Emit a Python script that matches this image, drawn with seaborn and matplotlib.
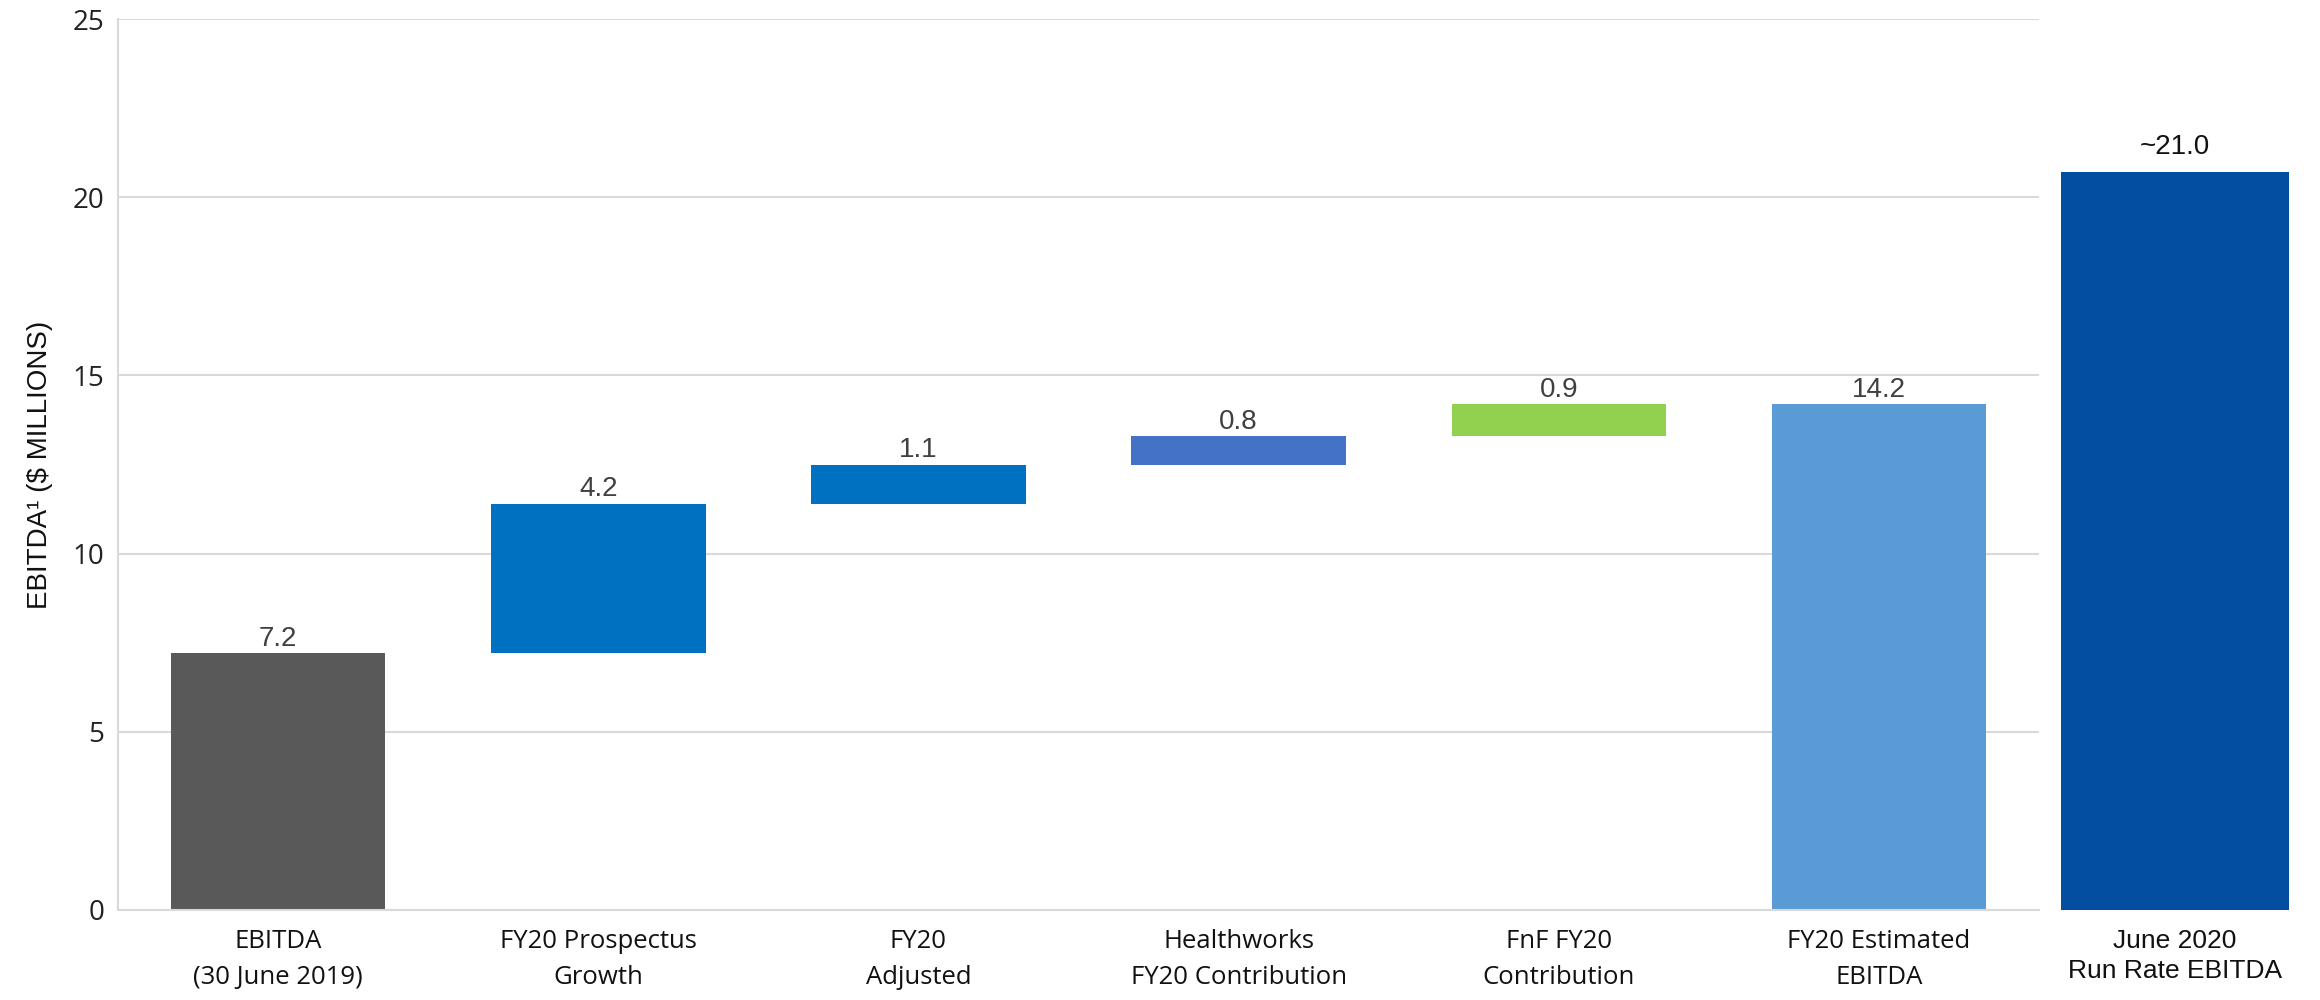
import matplotlib
matplotlib.use("Agg")
import matplotlib.pyplot as plt
import seaborn as sns
import pandas as pd

# Waterfall steps (A$ millions)
categories = [
    "EBITDA\n(30 June 2019)",
    "FY20 Prospectus\nGrowth",
    "FY20\nAdjusted",
    "Healthworks\nFY20 Contribution",
    "FnF FY20\nContribution",
    "FY20 Estimated\nEBITDA",
]
step_values = [7.2, 4.2, 1.1, 0.8, 0.9, 14.2]
is_total = [True, False, False, False, False, True]
bar_colors = ["#595959", "#0070C0", "#0070C0", "#4472C4", "#92D050", "#5B9BD5"]

run_rate_label = "June 2020\nRun Rate EBITDA"
run_rate_value = 20.7
run_rate_text = "~21.0"
run_rate_color = "#044EA2"

y_ticks = [0, 5, 10, 15, 20, 25]

# Floating-bar bases: totals start at zero, steps start at the running sum
bases = []
running = 0.0
for v, tot in zip(step_values, is_total):
    if tot:
        bases.append(0.0)
        running = v
    else:
        bases.append(running)
        running += v

df = pd.DataFrame({"category": categories, "value": step_values, "base": bases})

sns.set_theme(style="white")
plt.rcParams["font.family"] = ["Open Sans", "DejaVu Sans"]

fig = plt.figure(figsize=(23.2, 10), dpi=100)
ax = fig.add_axes([0.0509, 0.09, 0.828, 0.891])

sns.barplot(data=df, x="category", y="value", hue="category",
            palette=bar_colors, width=0.67, saturation=1, legend=False,
            ax=ax, linewidth=0)

# lift the step bars to their running-sum bases
for patch, base in zip(ax.patches, df["base"]):
    patch.set_y(base)

ax.set_ylim(0, 25)
ax.set_xlim(-0.5, len(categories) - 0.5)
ax.set_yticks(y_ticks)
ax.yaxis.grid(True, color="#D9D9D9", linewidth=1.5)
ax.set_axisbelow(True)
for side in ["top", "right"]:
    ax.spines[side].set_visible(False)
for side in ["left", "bottom"]:
    ax.spines[side].set_color("#D9D9D9")
    ax.spines[side].set_linewidth(1.5)
ax.tick_params(axis="y", labelsize=20, pad=10, length=0, labelcolor="#222222")
ax.tick_params(axis="x", labelsize=18.5, pad=14, length=0, labelcolor="#111111")
ax.set_xlabel("")
ax.set_ylabel("EBITDA¹ ($ MILLIONS)", fontsize=20, family="Liberation Sans",
              color="#111111", labelpad=14)
for lbl in ax.get_xticklabels():
    lbl.set_linespacing(1.55)

for i, (v, b) in enumerate(zip(df["value"], df["base"])):
    ax.annotate(f"{v:.1f}", xy=(i, b + v), xytext=(0, 1), textcoords="offset points",
                ha="center", va="bottom", fontsize=20, color="#404040",
                family="Liberation Sans")

# separate run-rate panel
ax2 = fig.add_axes([0.8815, 0.09, 0.112, 0.891])
sns.barplot(x=[run_rate_label], y=[run_rate_value], color=run_rate_color,
            saturation=1, width=0.88, ax=ax2, linewidth=0)
ax2.set_ylim(0, 25)
ax2.set_xlim(-0.5, 0.5)
ax2.set_yticks([])
for side in ax2.spines.values():
    side.set_visible(False)
ax2.tick_params(axis="x", labelsize=19, pad=14, length=0, labelcolor="#111111")
for lbl in ax2.get_xticklabels():
    lbl.set_family("Liberation Sans")
    lbl.set_linespacing(1.3)
ax2.set_xlabel("")
ax2.set_ylabel("")
ax2.annotate(run_rate_text, xy=(0, run_rate_value), xytext=(0, 9),
             textcoords="offset points", ha="center", va="bottom",
             fontsize=20, color="#111111", family="Liberation Sans")

fig.savefig("out.png", dpi=100, facecolor="white")
